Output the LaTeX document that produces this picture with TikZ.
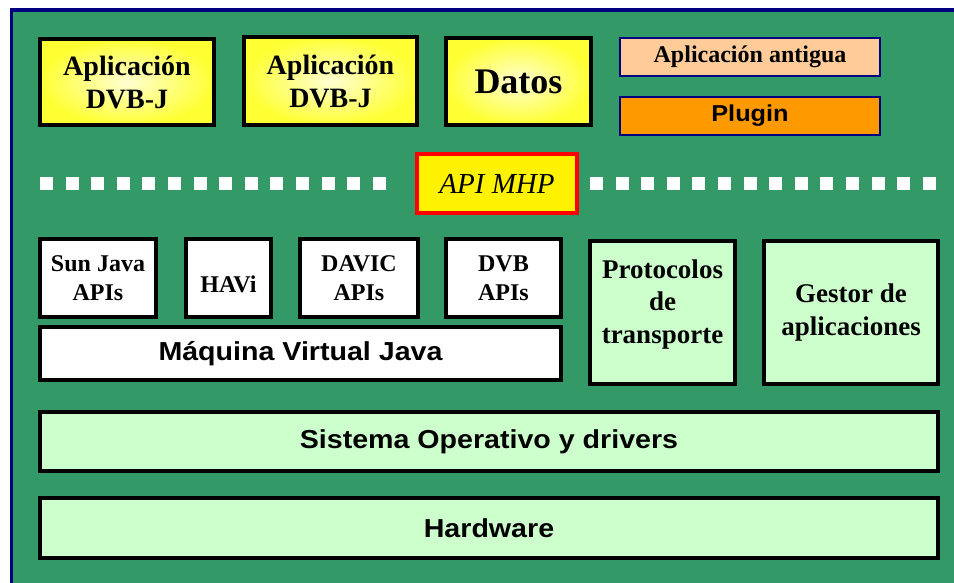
\documentclass[tikz,border=0pt]{standalone}
\usepackage{fontspec}
\setmainfont{Liberation Serif}
\setsansfont{Liberation Sans}
\newfontfamily\widesans[FakeStretch=1.1]{Liberation Sans}
\definecolor{bggreen}{HTML}{339966}
\definecolor{lightgreen}{HTML}{CCFFCC}
\definecolor{peach}{HTML}{FFCC99}
\definecolor{orangeplug}{HTML}{FF9900}
\definecolor{navyline}{HTML}{000080}
\definecolor{paleyellow}{HTML}{FFFFD2}
\definecolor{brightyellow}{HTML}{FFFF33}
\newcommand{\serifb}[2]{\fontsize{#1}{#2}\selectfont\rmfamily\bfseries}
\newcommand{\sansb}[1]{\fontsize{#1}{#1}\selectfont\widesans\bfseries}
\tikzset{
  blk/.style={draw=black, line width=4pt, inner sep=0pt, align=center},
  appbox/.style={blk, inner color=paleyellow, outer color=brightyellow},
  whitebox/.style={blk, fill=white},
  greenbox/.style={blk, fill=lightgreen},
  thinbox/.style={draw=navyline, line width=2pt, inner sep=0pt, align=center},
  txt/.style={inner sep=0pt, align=center},
}
\begin{document}
\begin{tikzpicture}[x=1pt, y=-1pt]
\useasboundingbox (0,0) rectangle (954,583);
% page background and the green panel with its navy frame
\fill[white] (0,0) rectangle (954,583);
\fill[bggreen] (11.5,10) rectangle (960,590);
\draw[navyline, line width=3.5pt] (11.5,590) -- (11.5,10) -- (960,10);

% applications row
\node[appbox, minimum width=174pt, minimum height=86pt, font=\serifb{28}{33}] (app1) at (127,82)
  {Aplicación\\DVB-J};
\node[appbox, minimum width=173pt, minimum height=88pt, font=\serifb{28}{33}] (app2) at (330.5,81)
  {Aplicación\\DVB-J};
\node[appbox, minimum width=145pt, minimum height=87pt, font=\serifb{36}{40}] (datos) at (518.5,81.5)
  {Datos};
\node[thinbox, fill=peach, minimum width=260pt, minimum height=38pt, font=\serifb{24}{28}] (antigua) at (750,57)
  {Aplicación antigua};
\node[thinbox, fill=orangeplug, minimum width=260pt, minimum height=38pt, font=\sansb{23}] (plugin) at (750,116)
  {Plugin};

% API MHP boundary with dotted separators
\foreach \i in {0,...,13} {
  \fill[white] (40+25.6*\i,177) rectangle ++(13,13);
  \fill[white] (590+25.6*\i,177) rectangle ++(13,13);
}
\node[blk, draw=red, fill=yellow, minimum width=160pt, minimum height=59pt,
  font=\fontsize{29}{33}\selectfont\rmfamily\itshape] (mhp) at (497,183.5) {API MHP};

% middleware APIs
\node[whitebox, minimum width=116pt, minimum height=78pt, font=\serifb{24}{29}] (sun) at (98,278)
  {Sun Java\\APIs};
\node[whitebox, minimum width=85pt, minimum height=78pt] (havi) at (228.5,278) {};
\node[txt, font=\serifb{24}{29}] at ([yshift=-6pt]havi.center) {HAVi};
\node[whitebox, minimum width=118pt, minimum height=78pt, font=\serifb{24}{29}] (davic) at (359,278)
  {DAVIC\\APIs};
\node[whitebox, minimum width=115pt, minimum height=78pt, font=\serifb{24}{29}] (dvb) at (503.5,278)
  {DVB\\APIs};
\node[whitebox, minimum width=521pt, minimum height=53pt, font=\sansb{26}] (jvm) at (300.5,353.5)
  {Máquina Virtual Java};

\node[greenbox, minimum width=145pt, minimum height=143pt] (proto) at (662.5,312.5) {};
\node[txt, font=\serifb{27}{32.5}] at ([yshift=8pt]proto.center) {Protocolos\\de\\transporte};
\node[greenbox, minimum width=174pt, minimum height=143pt, font=\serifb{27}{33}] (gestor) at (851,312.5)
  {Gestor de\\aplicaciones};

% system layers
\node[greenbox, minimum width=898pt, minimum height=59pt, font=\sansb{26}] (so) at (489,441.5)
  {Sistema Operativo y drivers};
\node[greenbox, minimum width=898pt, minimum height=60pt, font=\sansb{26}] (hw) at (489,528)
  {Hardware};
\end{tikzpicture}
\end{document}
